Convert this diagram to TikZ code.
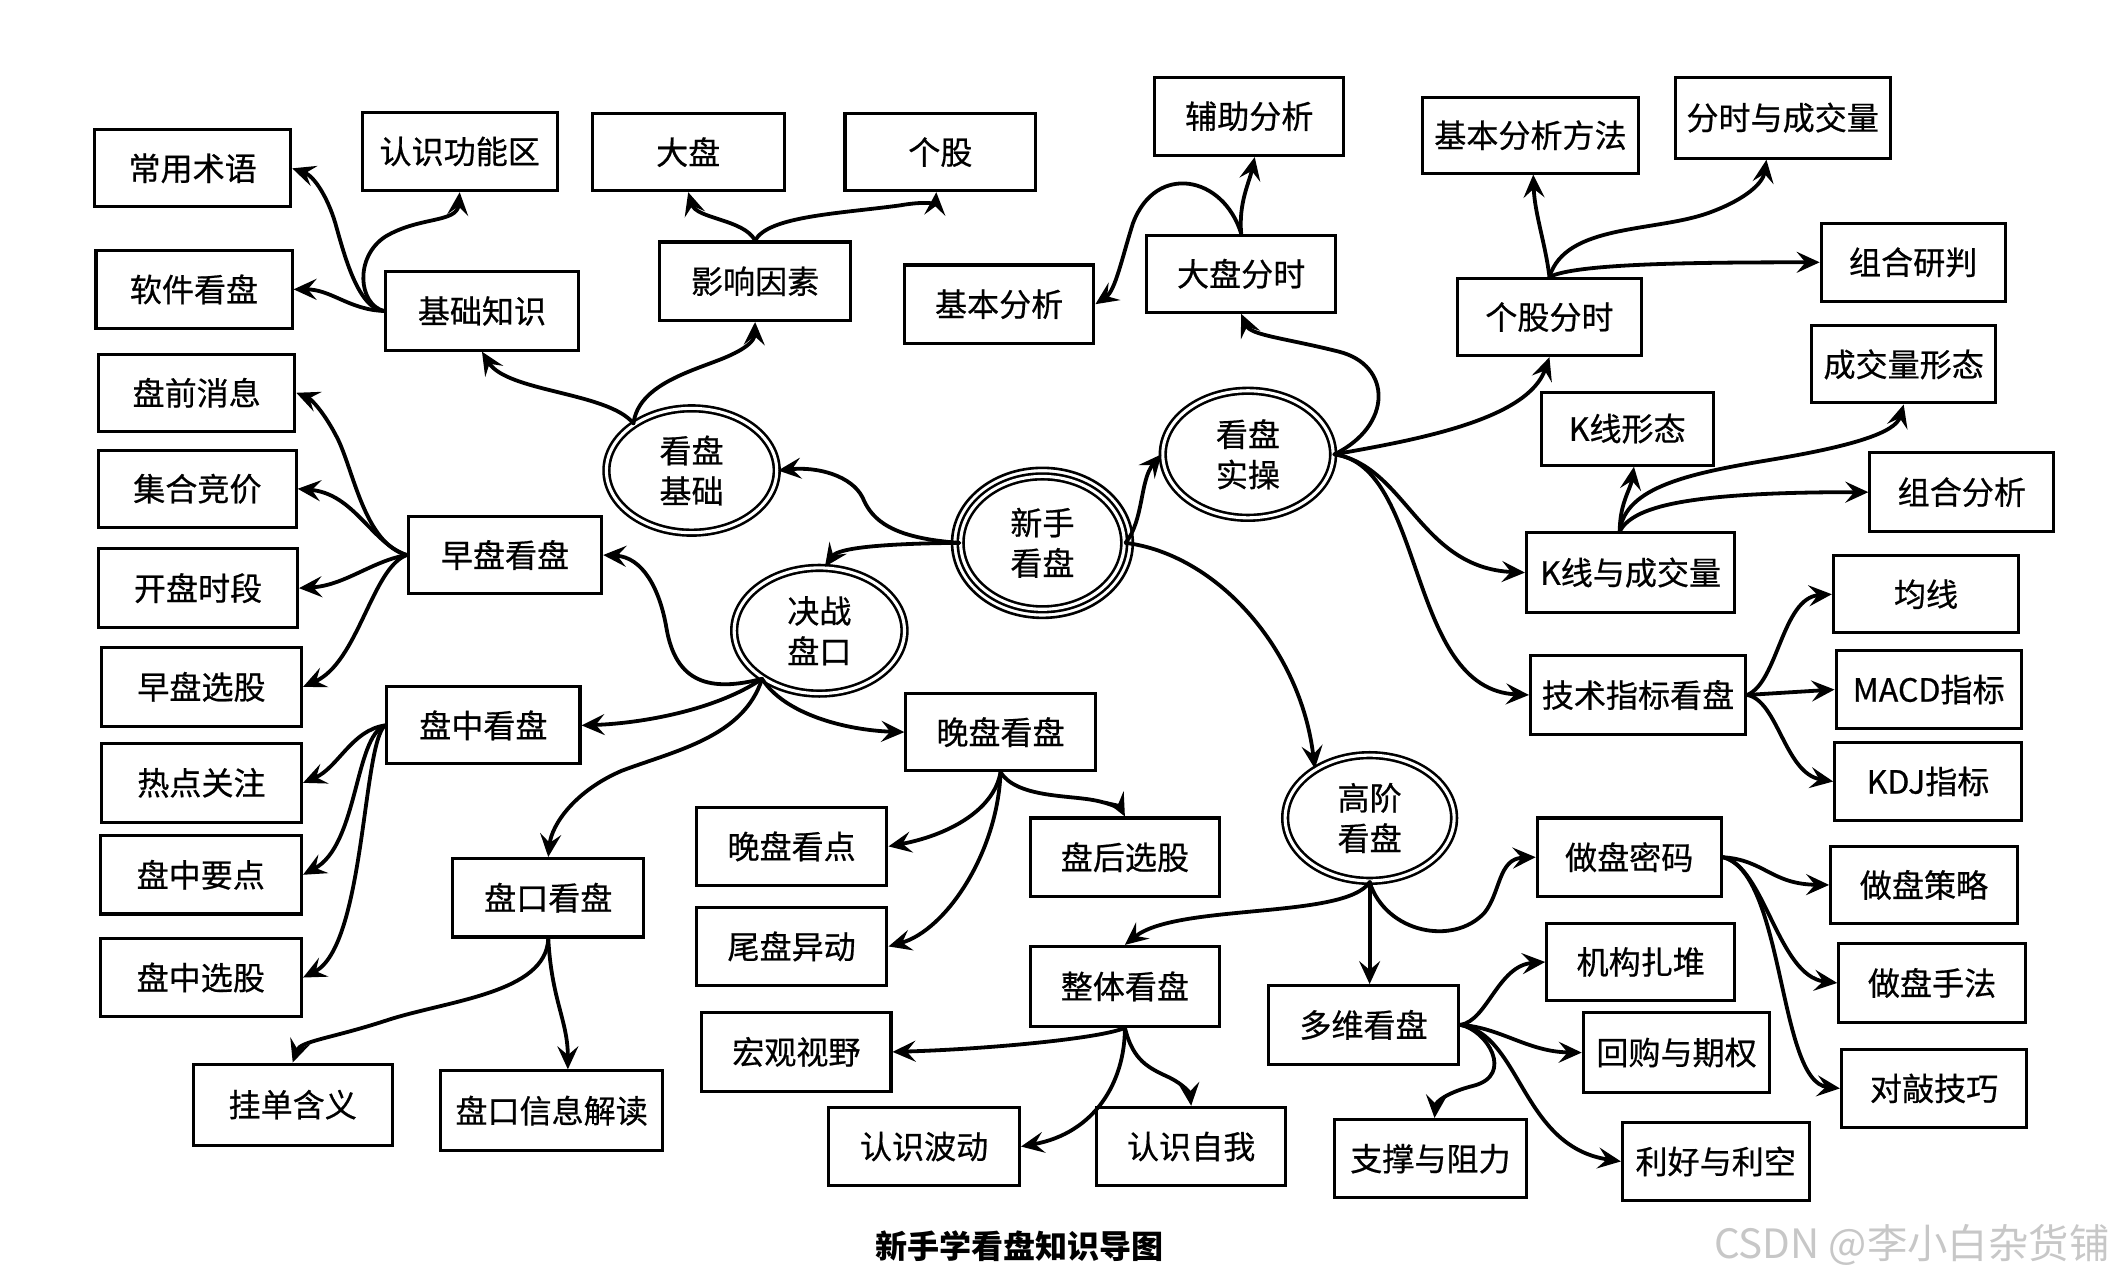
\documentclass[tikz,border=0pt]{standalone}
\usepackage{fontspec}
\setmainfont{Noto Sans CJK SC}
\newfontfamily\boxfont{Noto Sans CJK SC}[FakeBold=0.6]
\usetikzlibrary{shapes.geometric,arrows.meta,calc}
\tikzset{
  bx/.style={draw, line width=1.3pt, inner sep=0pt, font=\boxfont\fontsize{13.5pt}{16pt}\selectfont},
  ell/.style={ellipse, draw, line width=1.1pt, double, double distance=1.3pt, inner sep=0pt, align=center, font=\boxfont\fontsize{13.5pt}{17pt}\selectfont},
  con/.style={draw, line width=1.6pt, line cap=round, -{Stealth[length=0.34cm,width=0.31cm,inset=0.13cm]}},
}
\newcommand\mybox[6]{\node[bx, minimum width={(#4-#2)*0.02cm}, minimum height={(#5-#3)*0.02cm}] (#1) at ({(#2+#4)/2},{(#3+#5)/2}) {#6};}
\begin{document}
\begin{tikzpicture}[x=0.02cm, y=-0.02cm]
\fill[white] (0,0) rectangle (1568,946.7);
\useasboundingbox (0,0) rectangle (1568,946.7);

% boxes
\mybox{cysy}{70}{96}{215}{153}{常用术语}
\mybox{rsgn}{268}{83}{412}{141}{认识功能区}
\mybox{dp}{438}{84}{580}{141}{大盘}
\mybox{gg}{625}{84}{766}{141}{个股}
\mybox{rjkp}{71}{185}{216}{243}{软件看盘}
\mybox{jczs}{285}{201}{428}{259}{基础知识}
\mybox{yxys}{488}{179}{629}{237}{影响因素}
\mybox{jbfx}{669}{196}{809}{254}{基本分析}
\mybox{fzfx}{854}{57}{994}{115}{辅助分析}
\mybox{dpfs}{848}{174}{988}{231}{大盘分时}
\mybox{jbff}{1052}{72}{1212}{128}{基本分析方法}
\mybox{fscj}{1239}{57}{1398}{117}{分时与成交量}
\mybox{ggfs}{1078}{206}{1214}{263}{个股分时}
\mybox{zhyp}{1347}{165}{1483}{223}{组合研判}
\mybox{cjxt}{1340}{241}{1476}{298}{成交量形态}
\mybox{kxxt}{1140}{290}{1267}{344}{K线形态}
\mybox{zhfx}{1383}{335}{1519}{393}{组合分析}
\mybox{kxcj}{1129}{394}{1283}{453}{K线与成交量}
\mybox{jx}{1356}{411}{1493}{468}{均线}
\mybox{jszb}{1132}{485}{1291}{543}{技术指标看盘}
\mybox{macd}{1358}{481}{1495}{539}{MACD指标}
\mybox{kdj}{1357}{549}{1495}{607}{KDJ指标}
\mybox{pqxx}{73}{262}{218}{319}{盘前消息}
\mybox{jhjj}{73}{333}{219}{390}{集合竞价}
\mybox{kpsd}{73}{406}{220}{464}{开盘时段}
\mybox{zpkp}{302}{382}{445}{439}{早盘看盘}
\mybox{zpxg}{75}{479}{223}{537}{早盘选股}
\mybox{pzkp}{286}{508}{429}{565}{盘中看盘}
\mybox{rdgz}{75}{550}{223}{608}{热点关注}
\mybox{pzyd}{74}{618}{223}{676}{盘中要点}
\mybox{pzxg}{74}{694}{223}{752}{盘中选股}
\mybox{pkkp}{335}{635}{476}{693}{盘口看盘}
\mybox{gdhy}{143}{787}{290}{847}{挂单含义}
\mybox{pkxx}{326}{792}{490}{851}{盘口信息解读}
\mybox{wpkp}{670}{513}{810}{570}{晚盘看盘}
\mybox{wpkd}{515}{597}{656}{655}{晚盘看点}
\mybox{wpyd}{515}{671}{656}{729}{尾盘异动}
\mybox{phxg}{762}{605}{902}{663}{盘后选股}
\mybox{hgsy}{519}{749}{659}{807}{宏观视野}
\mybox{zdkp}{762}{700}{902}{759}{整体看盘}
\mybox{rsbd}{613}{819}{754}{877}{认识波动}
\mybox{rszw}{811}{819}{951}{877}{认识自我}
\mybox{dwkp}{938}{729}{1079}{787}{多维看盘}
\mybox{zpmm}{1137}{605}{1273}{663}{做盘密码}
\mybox{zpcl}{1354}{626}{1492}{683}{做盘策略}
\mybox{zpsf}{1360}{698}{1498}{756}{做盘手法}
\mybox{dqjq}{1362}{776}{1499}{834}{对敲技巧}
\mybox{jgzd}{1144}{683}{1283}{740}{机构扎堆}
\mybox{hgqq}{1171}{749}{1309}{808}{回购与期权}
\mybox{cyzl}{987}{828}{1129}{886}{支撑与阻力}
\mybox{lhlk}{1200}{830}{1338}{888}{利好与利空}

% ellipses
\node[ell, minimum width=2.52cm, minimum height=1.84cm] (kpjc) at (511.5,348) {看盘\\基础};
\node[ell, minimum width=2.42cm, minimum height=1.966cm] (xskp) at (771,401.5) {新手\\看盘};
\draw[line width=1.1pt] (xskp.center) ellipse [x radius=1.337cm, y radius=1.11cm];
\node[ell, minimum width=2.52cm, minimum height=1.86cm] (jzpk) at (606,466.5) {决战\\盘口};
\node[ell, minimum width=2.52cm, minimum height=1.88cm] (kpsc) at (923,336) {看盘\\实操};
\node[ell, minimum width=2.5cm, minimum height=1.86cm] (gjkp) at (1013,605) {高阶\\看盘};

% 看盘基础
\draw[con] (kpjc.141) .. controls (450,290) and (375,290) .. (jczs.south);
\draw[con] (kpjc.141) .. controls (472,285) and (510,275) .. (535,265) .. controls (552,258) and (558,252) .. (yxys.south);
% 基础知识
\draw[con] (jczs.west) .. controls (265,228) and (255,190) .. (248,165) .. controls (242,145) and (232,130) .. (cysy.east);
\draw[con] (jczs.west) .. controls (258,229) and (245,214) .. (rjkp.east);
\draw[con] (jczs.west) .. controls (265,225) and (262,190) .. (285,175) .. controls (310,160) and (338,165) .. (rsgn.south);
% 影响因素
\draw[con] (yxys.north) .. controls (550,162) and (515,162) .. (dp.south);
\draw[con] (yxys.north) .. controls (568,160) and (620,158) .. (665,152) .. controls (682,149) and (692,150) .. ($(gg.south)+(-3,0)$);
% 大盘分时
\draw[con] (dpfs.north) .. controls (916,150) and (924,135) .. ($(fzfx.south)+(4,0)$);
\draw[con] (dpfs.north) .. controls (905,130) and (855,120) .. (838,165) .. controls (830,190) and (825,215) .. (jbfx.east);
% 看盘实操
\draw[con] (kpsc.east) .. controls (1030,315) and (1030,270) .. (990,260) .. controls (950,250) and (925,248) .. (dpfs.south);
\draw[con] (kpsc.east) .. controls (1050,325) and (1130,310) .. (ggfs.south);
\draw[con] (kpsc.east) .. controls (1040,345) and (1050,420) .. (kxcj.west);
\draw[con] (kpsc.east) .. controls (1055,345) and (1040,510) .. (jszb.west);
% 个股分时
\draw[con] (ggfs.north) .. controls (1143,180) and (1135,158) .. ($(jbff.south)+(2,0)$);
\draw[con] (ggfs.north) .. controls (1158,165) and (1225,172) .. (1265,157) .. controls (1292,147) and (1304,135) .. ($(fscj.south)+(-12,0)$);
\draw[con] (ggfs.north) .. controls (1165,195) and (1250,194) .. (zhyp.west);
% K线与成交量
\coordinate (kxs) at ($(kxcj.north)+(-8,0)$);
\draw[con] (kxs) .. controls (1198,372) and (1206,362) .. ($(kxxt.south)+(5,0)$);
\draw[con] (kxs) .. controls (1202,360) and (1250,350) .. (1310,340) .. controls (1370,330) and (1402,320) .. (cjxt.south);
\draw[con] (kxs) .. controls (1208,375) and (1245,364) .. (zhfx.west);
% 技术指标看盘
\draw[con] (jszb.east) .. controls (1315,505) and (1318,442) .. (jx.west);
\draw[con] (jszb.east) -- (macd.west);
\draw[con] (jszb.east) .. controls (1315,518) and (1320,572) .. (kdj.west);
% 新手看盘
\draw[con] (xskp.east) .. controls (846,385) and (843,355) .. (kpsc.west);
\draw[con] (xskp.east) .. controls (900,410) and (962,480) .. (gjkp.138);
\draw[con] (xskp.west) .. controls (660,398) and (645,385) .. (638,368) .. controls (630,352) and (605,345) .. (kpjc.east);
\draw[con] (xskp.west) .. controls (655,402) and (620,405) .. (jzpk.85);
% 决战盘口
\coordinate (jzs) at (jzpk.220);
\draw[con] (jzs) .. controls (525,512) and (500,505) .. (493,465) .. controls (488,435) and (475,412) .. (zpkp.east);
\draw[con] (jzs) .. controls (530,525) and (475,535) .. (pzkp.east);
\draw[con] (jzs) .. controls (550,545) and (500,555) .. (460,570) .. controls (425,585) and (408,610) .. (pkkp.north);
\draw[con] (jzs) .. controls (580,528) and (625,540) .. (wpkp.west);
% 早盘看盘
\draw[con] (zpkp.west) .. controls (270,402) and (262,350) .. (250,325) .. controls (240,305) and (230,295) .. (pqxx.east);
\draw[con] (zpkp.west) .. controls (275,402) and (262,365) .. (jhjj.east);
\draw[con] (zpkp.west) .. controls (275,415) and (255,433) .. (kpsd.east);
\draw[con] (zpkp.west) .. controls (275,420) and (265,490) .. (zpxg.east);
% 盘中看盘
\draw[con] (pzkp.west) .. controls (260,540) and (250,568) .. (rdgz.east);
\draw[con] (pzkp.west) .. controls (262,545) and (265,625) .. (pzyd.east);
\draw[con] (pzkp.west) .. controls (268,550) and (270,700) .. (pzxg.east);
% 盘口看盘
\draw[con] (pkkp.south) .. controls (404,735) and (330,740) .. (285,755) .. controls (245,768) and (222,770) .. (gdhy.north);
\draw[con] (pkkp.south) .. controls (408,740) and (420,755) .. ($(pkxx.north)+(12,0)$);
% 晚盘看盘
\draw[con] (wpkp.south) .. controls (735,600) and (700,618) .. (wpkd.east);
\draw[con] (wpkp.south) .. controls (738,630) and (700,688) .. (wpyd.east);
\draw[con] (wpkp.south) .. controls (752,590) and (790,588) .. (810,592) .. controls (825,595) and (830,600) .. (phxg.north);
% 高阶看盘
\draw[con] (gjkp.south) .. controls (995,680) and (870,668) .. (zdkp.north);
\draw[con] (gjkp.south) -- (gjkp.south |- dwkp.north);
\draw[con] (gjkp.south) .. controls (1025,690) and (1075,700) .. (1098,675) .. controls (1110,660) and (1108,635) .. (zpmm.west);
% 整体看盘
\draw[con] (zdkp.south) .. controls (815,768) and (730,776) .. (hgsy.east);
\draw[con] (zdkp.south) .. controls (832,800) and (810,838) .. (rsbd.east);
\draw[con] (zdkp.south) .. controls (838,785) and (850,790) .. (865,797) .. controls (875,802) and (880,808) .. (rszw.north);
% 多维看盘
\draw[con] (dwkp.east) .. controls (1100,755) and (1108,714) .. (jgzd.west);
\draw[con] (dwkp.east) .. controls (1110,760) and (1130,778) .. (hgqq.west);
\draw[con] (dwkp.east) .. controls (1100,762) and (1120,795) .. (1090,803) .. controls (1070,808) and (1062,815) .. ($(cyzl.north)+(3,0)$);
\draw[con] (dwkp.east) .. controls (1125,765) and (1125,848) .. (lhlk.west);
% 做盘密码
\draw[con] (zpmm.east) .. controls (1305,636) and (1310,654) .. (zpcl.west);
\draw[con] (zpmm.east) .. controls (1305,640) and (1315,722) .. (zpsf.west);
\draw[con] (zpmm.east) .. controls (1320,645) and (1315,800) .. (dqjq.west);

% caption and watermark
\node[font=\fontsize{13.5pt}{16pt}\selectfont\bfseries] (cap) at (754,922) {新手学看盘知识导图};
\node[font=\fontsize{17pt}{20pt}\selectfont, text=black!22] (wm) at (1414,921) {CSDN @李小白杂货铺};
\end{tikzpicture}
\end{document}
